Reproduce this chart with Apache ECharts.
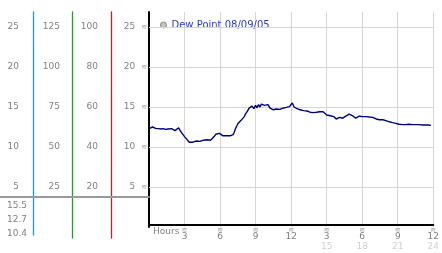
<!DOCTYPE html>
<html><head><meta charset="utf-8">
<script src="https://cdn.jsdelivr.net/npm/echarts@6/dist/echarts.min.js"></script>
<style>html,body{margin:0;padding:0;background:#fff}#c{width:442px;height:253px}</style>
</head><body><div id="c"></div>
<script>
const seriesName = 'Dew Point 08/09/05';
const hours = [0.0,0.15,0.3,0.45,0.6,0.8,1.0,1.2,1.4,1.6,1.75,1.9,2.05,2.2,2.35,2.5,2.65,2.8,3.0,3.2,3.4,3.55,3.7,3.85,4.0,4.15,4.3,4.45,4.6,4.75,4.9,5.05,5.2,5.35,5.5,5.65,5.8,5.95,6.1,6.25,6.4,6.55,6.7,6.85,7.0,7.1,7.2,7.3,7.4,7.5,7.6,7.75,7.9,8.05,8.15,8.3,8.45,8.6,8.7,8.85,9.0,9.1,9.25,9.35,9.5,9.65,9.75,9.9,10.05,10.2,10.35,10.5,10.6,10.75,10.9,11.05,11.2,11.3,11.45,11.6,11.75,11.85,12.0,12.1,12.25,12.4,12.5,12.65,12.75,12.9,13.05,13.2,13.35,13.5,13.6,13.75,13.85,14.0,14.15,14.25,14.4,14.55,14.7,14.85,15.0,15.15,15.3,15.45,15.6,15.8,15.95,16.1,16.25,16.35,16.5,16.65,16.8,16.9,17.05,17.2,17.35,17.45,17.6,17.75,17.9,18.05,18.2,18.35,18.45,18.6,18.75,18.9,19.05,19.2,19.3,19.45,19.6,19.75,19.9,20.0,20.15,20.3,20.4,20.55,20.7,20.85,20.95,21.1,21.25,21.4,21.55,21.65,21.8,21.95,22.05,22.2,22.35,22.5,22.65,22.8,22.9,23.1,23.3,23.45,23.6,23.8];
const dewPoint = [12.3,12.45,12.5,12.45,12.3,12.3,12.25,12.3,12.2,12.25,12.1,12.3,12.35,12.05,11.95,12.4,12.0,11.7,11.3,10.95,10.6,10.4,10.6,10.55,10.75,10.8,10.7,10.95,10.85,11.0,10.9,11.05,10.85,11.1,11.3,11.6,11.8,11.7,11.5,11.4,11.35,11.4,11.35,11.4,11.45,11.55,11.85,12.3,12.6,12.9,13.15,13.3,13.5,13.8,14.15,14.45,14.85,14.95,15.1,14.8,15.2,14.9,15.3,15.0,15.35,15.4,15.2,15.1,15.3,14.9,14.8,14.65,14.55,14.75,14.85,14.7,14.6,14.85,14.7,14.95,14.85,15.05,15.3,15.5,15.0,15.1,14.8,14.9,14.65,14.75,14.55,14.7,14.5,14.6,14.35,14.45,14.3,14.4,14.35,14.55,14.4,14.3,14.4,14.15,14.0,14.1,13.9,13.85,13.8,13.5,13.65,13.7,13.55,13.6,13.8,13.9,13.75,14.1,13.95,13.9,13.7,13.6,13.75,13.85,13.7,13.8,13.9,13.8,13.7,13.75,13.65,13.7,13.55,13.5,13.5,13.4,13.3,13.4,13.3,13.3,13.2,13.15,13.1,13.05,13.0,12.95,12.9,12.85,12.8,12.8,12.85,12.8,12.75,12.85,12.9,12.8,12.85,12.8,12.75,12.8,12.8,12.75,12.75,12.8,12.75,12.7];
const statLabels = ['10.4','12.7','15.5'];
const gridValues = [5,10,15,20,25];
const hourLabel = 'Hours';

const FONT = 'DejaVu Sans';
const GREY = '#808080';
const chart = echarts.init(document.getElementById('c'), null, {renderer:'canvas'});

function mult(v, step){ return v > 0 && Math.abs(v/step - Math.round(v/step)) < 1e-6; }
function colAxis(max, step, offset){
  return {
    type:'value', gridIndex:0, position:'left', min:0, max:max, interval:step, offset:offset,
    axisLine:{show:false}, axisTick:{show:false}, splitLine:{show:false},
    axisLabel:{margin:8, color:GREY, fontFamily:FONT, fontSize:9,
      formatter:function(v){ return mult(v, step) ? String(v) : ''; }}
  };
}
function lineAxis(grid, color){
  return {type:'value', gridIndex:grid, axisLine:{show:true, lineStyle:{color:color, width:1.3}}, axisTick:{show:false}, axisLabel:{show:false}, splitLine:{show:false}};
}
const data = hours.map((h,i)=>[h, dewPoint[i]]);

const option = {
  backgroundColor:'#fff',
  animation:false,
  title:{text:hourLabel, left:148, top:222, textStyle:{color:GREY, fontFamily:FONT, fontSize:9, fontWeight:'normal'}},
  legend:{left:155, top:15, itemWidth:6, itemHeight:6, icon:'circle',
    data:[seriesName],
    itemStyle:{color:'#c4c4c4', borderColor:'#8a8a8a', borderWidth:1},
    textStyle:{color:'#2b39c0', fontFamily:FONT, fontSize:10}},
  grid:[
    {left:149, right:3, top:12, height:215},
    {left:0, width:149, top:12, height:185},
    {left:33, width:1, top:12, height:223},
    {left:72, width:1, top:12, height:226},
    {left:111, width:1, top:12, height:226},
    {left:33, width:1, top:199, height:42}
  ],
  xAxis:[
    {type:'value', gridIndex:0, min:0, max:24, interval:3, offset:-2,
      axisLine:{lineStyle:{color:'#000', width:2}}, axisTick:{show:false},
      splitLine:{show:true, lineStyle:{color:'#d6d6d6', width:1}},
      axisLabel:{margin:2, showMinLabel:false,
        formatter:function(v){
          if (v<=0) return '';
          const h = v%12===0 ? 12 : v%12;
          let s = '{t|≋}\n{n|'+h+'}';
          if (v>12) s += '\n{g|'+v+'}';
          return s;
        },
        rich:{
          t:{fontSize:7, color:'#a0a0a0', lineHeight:6, fontFamily:FONT},
          n:{fontSize:9, color:GREY, lineHeight:7, fontFamily:FONT},
          g:{fontSize:9, color:'#d0d0d0', lineHeight:13, fontFamily:FONT}
        }}},
    {type:'value', gridIndex:1, min:0, max:1, axisLine:{lineStyle:{color:'#999', width:2}}, axisTick:{show:false}, axisLabel:{show:false}, splitLine:{show:false}},
    {type:'value', gridIndex:2, show:false},
    {type:'value', gridIndex:3, show:false},
    {type:'value', gridIndex:4, show:false},
    {type:'value', gridIndex:5, show:false}
  ],
  yAxis:[
    {type:'value', gridIndex:0, position:'left', min:0, max:26.875, interval:5,
      axisLine:{show:true, lineStyle:{color:'#000', width:2}}, axisTick:{show:false}, splitLine:{show:false},
      axisLabel:{margin:2, formatter:function(v){ return mult(v,5) ? '{n|'+v+'}{s|≋}' : ''; },
        rich:{n:{fontSize:9, color:GREY, fontFamily:FONT}, s:{fontSize:7, color:'#a0a0a0', padding:[0,0,0,6], fontFamily:FONT}}}},
    colAxis(107.5, 20, 43),
    colAxis(134.375, 25, 81),
    colAxis(26.875, 5, 122),
    {type:'value', gridIndex:1, show:false},
    lineAxis(2, '#2196e0'),
    lineAxis(3, '#22a022'),
    lineAxis(4, '#c82020'),
    {type:'category', gridIndex:5, data:statLabels, axisLine:{show:false}, axisTick:{show:false}, splitLine:{show:false},
      axisLabel:{margin:6, color:GREY, fontFamily:FONT, fontSize:9}}
  ],
  series:[{
    name:seriesName, type:'line', xAxisIndex:0, yAxisIndex:0, data:data,
    symbol:'none', smooth:false,
    lineStyle:{color:'#00007a', width:1.4}, itemStyle:{color:'#00007a'},
    markLine:{silent:true, symbol:['none','none'], label:{show:false},
      lineStyle:{color:'#d6d6d6', width:1, type:'solid'},
      data:gridValues.map(v=>({yAxis:v}))},
    z:5
  }]
};
chart.setOption(option);
</script></body></html>
